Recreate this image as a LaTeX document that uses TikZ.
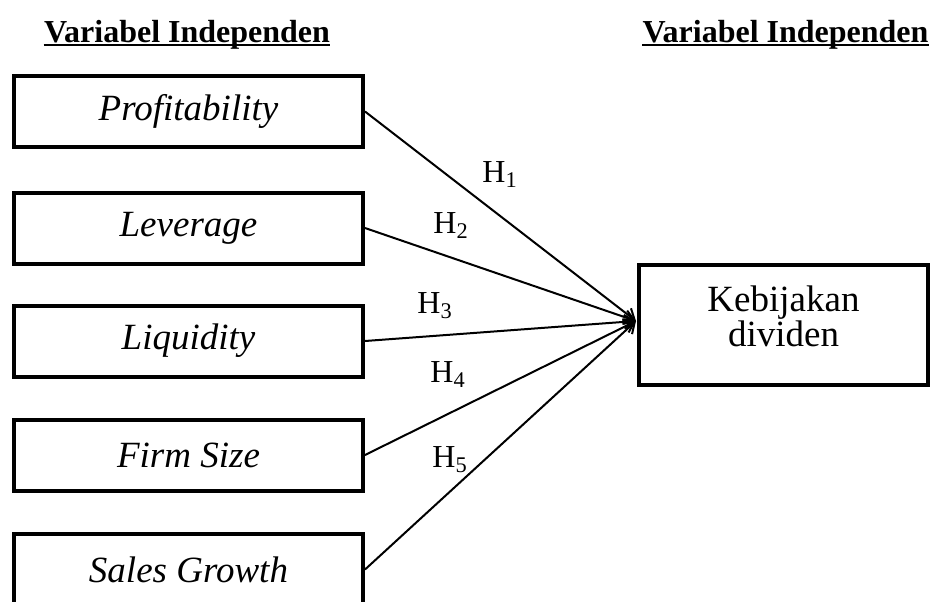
\documentclass[tikz,border=0pt]{standalone}
\usepackage{fontspec}
\setmainfont{Liberation Serif}
\usetikzlibrary{arrows.meta}
\begin{document}
\begin{tikzpicture}[x=0.5pt,y=-0.5pt,
	varbox/.style={draw, line width=2pt, minimum width=174.5pt, minimum height=35.5pt, inner sep=0pt, font=\fontsize{18.5}{21}\selectfont\itshape},
	title/.style={anchor=base, inner sep=0pt, font=\fontsize{16}{19}\selectfont\bfseries},
	hyp/.style={anchor=base west, inner sep=0pt, font=\fontsize{16}{19}\selectfont},
	>={Straight Barb[length=5pt,width=7pt]}]
	\clip (0,0) rectangle (933,601);
			\node	(t1) at (187,42) [title] {Variabel Independen};
			\node	(t2) at (785.5,42) [title] {Variabel Independen};
			\draw[line width=1pt] ([yshift=-1.5pt]t1.base west) -- ([yshift=-1.5pt]t1.base east);
			\draw[line width=1pt] ([yshift=-1.5pt]t2.base west) -- ([yshift=-1.5pt]t2.base east);
			
			\node	(prof) at (188.5,111.5) [varbox] {Profitability};
			\node	(lev) at (188.5,228) [varbox] {Leverage};
			\node	(liq) at (188.5,341) [varbox] {Liquidity};
			\node	(size) at (188.5,455) [varbox] {Firm Size};
			\node	(grow) at (188.5,569.5) [varbox] {Sales Growth};
			\node	(kd) at (783.5,325) [draw, line width=2pt, minimum width=144.5pt, minimum height=60pt, inner sep=0pt, text depth=9pt, align=center, font=\fontsize{18.5}{17.5}\selectfont] {Kebijakan\\dividen};
			\coordinate (tip) at (636,321);
			
			\node	(h1) at (482,182) [hyp] {H\textsubscript{1}};
			\node	(h2) at (433,233) [hyp] {H\textsubscript{2}};
			\node	(h3) at (417,313) [hyp] {H\textsubscript{3}};
			\node	(h4) at (430,382) [hyp] {H\textsubscript{4}};
			\node	(h5) at (432,467) [hyp] {H\textsubscript{5}};
			
			\draw[line width=1pt]
			(prof.east) edge[->] (tip)
			(lev.east) edge[->] (tip)
			(liq.east) edge[->] (tip)
			(size.east) edge[->] (tip)
			(grow.east) edge[->] (tip)
			;
		\end{tikzpicture}
\end{document}
